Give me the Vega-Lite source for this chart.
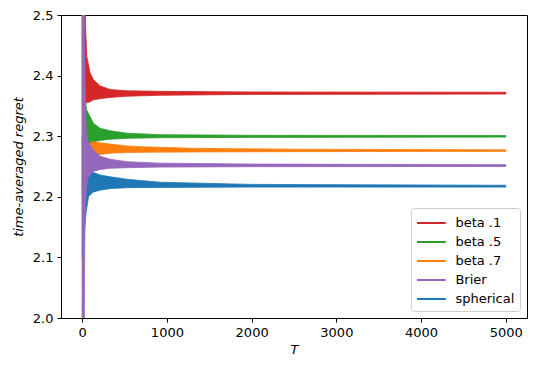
{
  "$schema": "https://vega.github.io/schema/vega-lite/v6.json",
  "width": 466,
  "height": 303,
  "autosize": {"type": "none"},
  "padding": {"left": 61, "top": 15, "right": 14, "bottom": 52},
  "background": "white",
  "config": {
    "view": {"stroke": "#000000", "strokeWidth": 1},
    "font": "DejaVu Sans",
    "axis": {
      "grid": false,
      "domainColor": "#000000",
      "tickColor": "#000000",
      "tickSize": 4,
      "labelPadding": 4,
      "labelColor": "#000000",
      "labelFont": "DejaVu Sans",
      "labelFontSize": 13,
      "titleFont": "DejaVu Sans",
      "titleFontSize": 13,
      "titleFontWeight": "normal",
      "titleFontStyle": "italic",
      "titleColor": "#000000"
    },
    "legend": {
      "labelFont": "DejaVu Sans",
      "labelFontSize": 13,
      "labelColor": "#000000"
    }
  },
  "datasets": {
    "env": [
      {"s": "beta .1", "T": 1, "lo": 2.35, "hi": 2.7},
      {"s": "beta .1", "T": 30, "lo": 2.355, "hi": 2.6},
      {"s": "beta .1", "T": 40, "lo": 2.355, "hi": 2.48},
      {"s": "beta .1", "T": 55, "lo": 2.355, "hi": 2.431},
      {"s": "beta .1", "T": 94, "lo": 2.357, "hi": 2.404},
      {"s": "beta .1", "T": 134, "lo": 2.36, "hi": 2.393},
      {"s": "beta .1", "T": 212, "lo": 2.362, "hi": 2.383},
      {"s": "beta .1", "T": 330, "lo": 2.364, "hi": 2.377},
      {"s": "beta .1", "T": 527, "lo": 2.366, "hi": 2.375},
      {"s": "beta .1", "T": 920, "lo": 2.3675, "hi": 2.374},
      {"s": "beta .1", "T": 2000, "lo": 2.369, "hi": 2.373},
      {"s": "beta .1", "T": 5000, "lo": 2.3695, "hi": 2.3725},

      {"s": "beta .5", "T": 1, "lo": 2.2, "hi": 2.6},
      {"s": "beta .5", "T": 30, "lo": 2.27, "hi": 2.37},
      {"s": "beta .5", "T": 45, "lo": 2.285, "hi": 2.35},
      {"s": "beta .5", "T": 55, "lo": 2.286, "hi": 2.343},
      {"s": "beta .5", "T": 94, "lo": 2.288, "hi": 2.332},
      {"s": "beta .5", "T": 134, "lo": 2.291, "hi": 2.321},
      {"s": "beta .5", "T": 212, "lo": 2.293, "hi": 2.313},
      {"s": "beta .5", "T": 330, "lo": 2.295, "hi": 2.309},
      {"s": "beta .5", "T": 527, "lo": 2.2965, "hi": 2.305},
      {"s": "beta .5", "T": 920, "lo": 2.2975, "hi": 2.3025},
      {"s": "beta .5", "T": 2000, "lo": 2.298, "hi": 2.3015},
      {"s": "beta .5", "T": 5000, "lo": 2.2985, "hi": 2.301},

      {"s": "beta .7", "T": 1, "lo": 2.0, "hi": 2.6},
      {"s": "beta .7", "T": 30, "lo": 2.24, "hi": 2.3},
      {"s": "beta .7", "T": 60, "lo": 2.258, "hi": 2.288},
      {"s": "beta .7", "T": 94, "lo": 2.265, "hi": 2.287},
      {"s": "beta .7", "T": 114, "lo": 2.267, "hi": 2.291},
      {"s": "beta .7", "T": 134, "lo": 2.268, "hi": 2.291},
      {"s": "beta .7", "T": 212, "lo": 2.27, "hi": 2.289},
      {"s": "beta .7", "T": 330, "lo": 2.272, "hi": 2.287},
      {"s": "beta .7", "T": 527, "lo": 2.273, "hi": 2.284},
      {"s": "beta .7", "T": 720, "lo": 2.2735, "hi": 2.2825},
      {"s": "beta .7", "T": 1310, "lo": 2.274, "hi": 2.28},
      {"s": "beta .7", "T": 2500, "lo": 2.2745, "hi": 2.2785},
      {"s": "beta .7", "T": 5000, "lo": 2.275, "hi": 2.2775},

      {"s": "spherical", "T": 1, "lo": 2.1, "hi": 2.3},
      {"s": "spherical", "T": 30, "lo": 2.15, "hi": 2.235},
      {"s": "spherical", "T": 47, "lo": 2.175, "hi": 2.233},
      {"s": "spherical", "T": 75, "lo": 2.2, "hi": 2.239},
      {"s": "spherical", "T": 114, "lo": 2.206, "hi": 2.241},
      {"s": "spherical", "T": 134, "lo": 2.208, "hi": 2.24},
      {"s": "spherical", "T": 212, "lo": 2.211, "hi": 2.236},
      {"s": "spherical", "T": 330, "lo": 2.2135, "hi": 2.233},
      {"s": "spherical", "T": 527, "lo": 2.215, "hi": 2.229},
      {"s": "spherical", "T": 920, "lo": 2.2155, "hi": 2.224},
      {"s": "spherical", "T": 2000, "lo": 2.216, "hi": 2.2205},
      {"s": "spherical", "T": 5000, "lo": 2.216, "hi": 2.219},

      {"s": "Brier", "T": 1, "lo": 1.8, "hi": 2.8},
      {"s": "Brier", "T": 22, "lo": 1.9, "hi": 2.7},
      {"s": "Brier", "T": 30, "lo": 2.12, "hi": 2.42},
      {"s": "Brier", "T": 38, "lo": 2.18, "hi": 2.36},
      {"s": "Brier", "T": 50, "lo": 2.215, "hi": 2.305},
      {"s": "Brier", "T": 70, "lo": 2.232, "hi": 2.292},
      {"s": "Brier", "T": 94, "lo": 2.237, "hi": 2.285},
      {"s": "Brier", "T": 134, "lo": 2.242, "hi": 2.277},
      {"s": "Brier", "T": 212, "lo": 2.245, "hi": 2.267},
      {"s": "Brier", "T": 330, "lo": 2.247, "hi": 2.262},
      {"s": "Brier", "T": 527, "lo": 2.248, "hi": 2.258},
      {"s": "Brier", "T": 920, "lo": 2.249, "hi": 2.2555},
      {"s": "Brier", "T": 2000, "lo": 2.2497, "hi": 2.254},
      {"s": "Brier", "T": 5000, "lo": 2.25, "hi": 2.253}
    ]
  },
  "data": {"name": "env"},
  "encoding": {
    "x": {
      "field": "T",
      "type": "quantitative",
      "title": "T",
      "scale": {"domain": [-250, 5250], "nice": false, "zero": false},
      "axis": {"values": [0, 1000, 2000, 3000, 4000, 5000], "format": "d", "titlePadding": 4}
    },
    "y": {
      "field": "lo",
      "type": "quantitative",
      "title": "time-averaged regret",
      "scale": {"domain": [2.0, 2.5], "nice": false, "zero": false},
      "axis": {"values": [2.0, 2.1, 2.2, 2.3, 2.4, 2.5], "format": ".1f", "titlePadding": 7}
    },
    "y2": {"field": "hi"},
    "fill": {
      "field": "s",
      "type": "nominal",
      "scale": {
        "domain": ["beta .1", "beta .5", "beta .7", "Brier", "spherical"],
        "range": ["#d62728", "#2ca02c", "#ff7f0e", "#9467bd", "#1f77b4"]
      },
      "legend": {
        "title": null,
        "orient": "bottom-right",
        "offset": 7,
        "fillColor": "rgba(255,255,255,0.8)",
        "strokeColor": "#cccccc",
        "cornerRadius": 3,
        "padding": 5,
        "symbolType": "M-1.6,0H1.6",
        "symbolSize": 324,
        "symbolStrokeWidth": 2,
        "symbolOffset": 5.4,
        "labelOffset": 14,
        "rowPadding": 2
      }
    },
    "stroke": {
      "field": "s",
      "type": "nominal",
      "scale": {
        "domain": ["beta .1", "beta .5", "beta .7", "Brier", "spherical"],
        "range": ["#d62728", "#2ca02c", "#ff7f0e", "#9467bd", "#1f77b4"]
      },
      "legend": {
        "title": null,
        "orient": "bottom-right",
        "offset": 7,
        "fillColor": "rgba(255,255,255,0.8)",
        "strokeColor": "#cccccc",
        "cornerRadius": 3,
        "padding": 5,
        "symbolType": "M-1.6,0H1.6",
        "symbolSize": 324,
        "symbolStrokeWidth": 2,
        "symbolOffset": 5.4,
        "labelOffset": 14,
        "rowPadding": 2
      }
    }
  },
  "layer": [
    {"transform": [{"filter": "datum.s === 'beta .1'"}], "mark": {"type": "area", "clip": true, "opacity": 1, "strokeWidth": 0.8}},
    {"transform": [{"filter": "datum.s === 'beta .5'"}], "mark": {"type": "area", "clip": true, "opacity": 1, "strokeWidth": 0.8}},
    {"transform": [{"filter": "datum.s === 'beta .7'"}], "mark": {"type": "area", "clip": true, "opacity": 1, "strokeWidth": 0.8}},
    {"transform": [{"filter": "datum.s === 'spherical'"}], "mark": {"type": "area", "clip": true, "opacity": 1, "strokeWidth": 0.8}},
    {"transform": [{"filter": "datum.s === 'Brier'"}], "mark": {"type": "area", "clip": true, "opacity": 1, "strokeWidth": 0.8}}
  ]
}
